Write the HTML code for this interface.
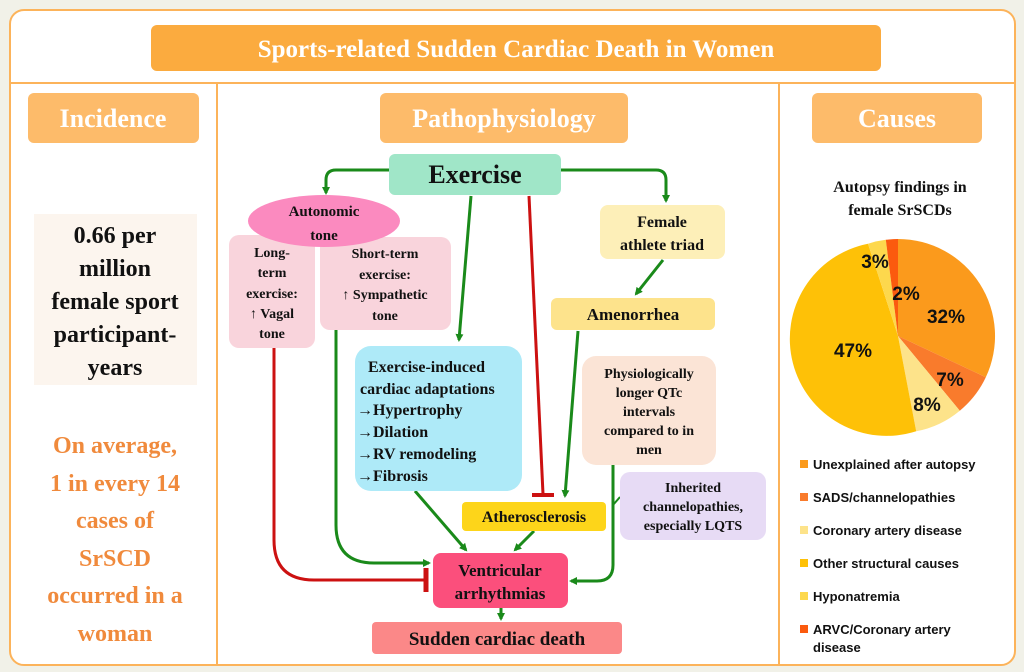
<!DOCTYPE html>
<html><head><meta charset="utf-8"><style>
html,body{margin:0;padding:0;background:#f1f1e8;}
svg{display:block}
.s{font-family:"Liberation Serif",serif;font-weight:bold;}
.a{font-family:"Liberation Sans",sans-serif;font-weight:bold;}
</style></head><body>
<svg width="1024" height="672" viewBox="0 0 1024 672" xmlns="http://www.w3.org/2000/svg">
<defs>
<marker id="g" markerWidth="8" markerHeight="8" refX="6" refY="4" orient="auto" markerUnits="userSpaceOnUse"><path d="M0,0 L8,4 L0,8 Z" fill="#1a8a1a"/></marker>
</defs>
<rect x="0" y="0" width="1024" height="672" fill="#f1f1e8"/>
<rect x="10" y="10" width="1005" height="655" rx="14" fill="#fff" stroke="#fcb35a" stroke-width="2"/>
<line x1="10" y1="83" x2="1015" y2="83" stroke="#fcb35a" stroke-width="2"/>
<line x1="217" y1="83" x2="217" y2="665" stroke="#fcb35a" stroke-width="2"/>
<line x1="779" y1="83" x2="779" y2="665" stroke="#fcb35a" stroke-width="2"/>

<rect x="151" y="25" width="730" height="46" rx="6" fill="#fbab3f"/>
<text x="516" y="57" text-anchor="middle" class="s" font-size="25" fill="#fff">Sports-related Sudden Cardiac Death in Women</text>

<rect x="28" y="93" width="171" height="50" rx="6" fill="#fdbb6a"/>
<text x="113" y="127" text-anchor="middle" class="s" font-size="26" fill="#fff">Incidence</text>
<rect x="380" y="93" width="248" height="50" rx="6" fill="#fdbb6a"/>
<text x="504" y="127" text-anchor="middle" class="s" font-size="26" fill="#fff">Pathophysiology</text>
<rect x="812" y="93" width="170" height="50" rx="6" fill="#fdbb6a"/>
<text x="897" y="127" text-anchor="middle" class="s" font-size="26" fill="#fff">Causes</text>

<rect x="34" y="214" width="163" height="171" fill="#fcf5ee"/>
<text class="s" font-size="24" fill="#111" text-anchor="middle">
<tspan x="115" y="243">0.66 per</tspan><tspan x="115" y="276">million</tspan><tspan x="115" y="309">female sport</tspan><tspan x="115" y="342">participant-</tspan><tspan x="115" y="375">years</tspan></text>
<text class="s" font-size="24" fill="#f08a3c" text-anchor="middle">
<tspan x="115" y="453">On average,</tspan><tspan x="115" y="491">1 in every 14</tspan><tspan x="115" y="528">cases of</tspan><tspan x="115" y="566">SrSCD</tspan><tspan x="115" y="603">occurred in a</tspan><tspan x="115" y="641">woman</tspan></text>

<g fill="none" stroke-width="3">
<path d="M389,170 H336 Q326,170 326,180 V193" stroke="#1a8a1a" marker-end="url(#g)"/>
<path d="M561,170 H656 Q666,170 666,180 V201" stroke="#1a8a1a" marker-end="url(#g)"/>
<path d="M471,196 L459,340" stroke="#1a8a1a" marker-end="url(#g)"/>
<path d="M529,196 L543,494" stroke="#cc1111"/>
<path d="M532,495 H554" stroke="#cc1111" stroke-width="4"/>
<path d="M663,260 L636,294" stroke="#1a8a1a" marker-end="url(#g)"/>
<path d="M578,331 L565,496" stroke="#1a8a1a" marker-end="url(#g)"/>
<path d="M274,348 V540 Q274,580 314,580 H424" stroke="#cc1111"/>
<path d="M426,568 V592" stroke="#cc1111" stroke-width="5"/>
<path d="M336,330 V525 Q336,563 374,563 H429" stroke="#1a8a1a" marker-end="url(#g)"/>
<path d="M415,491 L466,550" stroke="#1a8a1a" marker-end="url(#g)"/>
<path d="M534,531 L515,550" stroke="#1a8a1a" marker-end="url(#g)"/>
<path d="M613,465 V565 Q613,581 597,581 H571" stroke="#1a8a1a" marker-end="url(#g)"/>
<path d="M613,505 L620,497" stroke="#1a8a1a" stroke-width="2"/>
<path d="M501,608 V619" stroke="#1a8a1a" marker-end="url(#g)"/>
</g>

<rect x="389" y="154" width="172" height="41" rx="6" fill="#a0e6c8"/>
<text x="475" y="183" text-anchor="middle" class="s" font-size="26" fill="#111">Exercise</text>

<rect x="229" y="235" width="86" height="113" rx="10" fill="#f9d4dc"/>
<rect x="320" y="237" width="131" height="93" rx="10" fill="#f9d4dc"/>
<ellipse cx="324" cy="221" rx="76" ry="26" fill="#fb8abf"/>
<text class="s" font-size="15" fill="#111" text-anchor="middle"><tspan x="324" y="216">Autonomic</tspan><tspan x="324" y="240">tone</tspan></text>
<text class="s" font-size="14" fill="#111" text-anchor="middle"><tspan x="272" y="257">Long-</tspan><tspan x="272" y="277">term</tspan><tspan x="272" y="298">exercise:</tspan><tspan x="272" y="318">↑ Vagal</tspan><tspan x="272" y="338">tone</tspan></text>
<text class="s" font-size="14" fill="#111" text-anchor="middle"><tspan x="385" y="258">Short-term</tspan><tspan x="385" y="279">exercise:</tspan><tspan x="385" y="299">↑ Sympathetic</tspan><tspan x="385" y="320">tone</tspan></text>

<rect x="600" y="205" width="125" height="54" rx="8" fill="#fdefb8"/>
<text class="s" font-size="16" fill="#111" text-anchor="middle"><tspan x="662" y="227">Female</tspan><tspan x="662" y="250">athlete triad</tspan></text>
<rect x="551" y="298" width="164" height="32" rx="6" fill="#fde38c"/>
<text x="633" y="320" text-anchor="middle" class="s" font-size="17" fill="#111">Amenorrhea</text>

<rect x="355" y="346" width="167" height="145" rx="16" fill="#aeeaf8"/>
<text class="s" font-size="16" fill="#111"><tspan x="368" y="372" >Exercise-induced</tspan><tspan x="360" y="394">cardiac adaptations</tspan><tspan x="357" y="415">→Hypertrophy</tspan><tspan x="357" y="437">→Dilation</tspan><tspan x="357" y="459">→RV remodeling</tspan><tspan x="357" y="481">→Fibrosis</tspan></text>

<rect x="582" y="356" width="134" height="109" rx="14" fill="#fbe4d6"/>
<text class="s" font-size="14" fill="#111" text-anchor="middle"><tspan x="649" y="378">Physiologically</tspan><tspan x="649" y="397">longer QTc</tspan><tspan x="649" y="416">intervals</tspan><tspan x="649" y="435">compared to in</tspan><tspan x="649" y="454">men</tspan></text>

<rect x="462" y="502" width="144" height="29" rx="4" fill="#fdd51a"/>
<text x="534" y="522" text-anchor="middle" class="s" font-size="16" fill="#111">Atherosclerosis</text>

<rect x="620" y="472" width="146" height="68" rx="10" fill="#e7dbf5"/>
<text class="s" font-size="14" fill="#111" text-anchor="middle"><tspan x="693" y="492">Inherited</tspan><tspan x="693" y="511">channelopathies,</tspan><tspan x="693" y="530">especially LQTS</tspan></text>

<rect x="433" y="553" width="135" height="55" rx="8" fill="#fb4f7c"/>
<text class="s" font-size="17" fill="#111" text-anchor="middle"><tspan x="500" y="576">Ventricular</tspan><tspan x="500" y="599">arrhythmias</tspan></text>

<rect x="372" y="622" width="250" height="32" rx="4" fill="#fb8888"/>
<text x="497" y="645" text-anchor="middle" class="s" font-size="19" fill="#111">Sudden cardiac death</text>

<text class="s" font-size="16" fill="#111" text-anchor="middle"><tspan x="900" y="192">Autopsy findings in</tspan><tspan x="900" y="215">female SrSCDs</tspan></text>
<path d="M898,336 L898,239 A97,97 0 0 1 985.8,377.3 Z" fill="#fb9a1c"/>
<path d="M898,336 L985.8,377.3 A97,97 0 0 1 959.8,410.7 Z" fill="#f97b2c"/>
<path d="M898,336 L959.8,410.7 A97,97 0 0 1 916.2,431.3 Z" fill="#fde38a"/>
<path d="M898,336 L916.2,431.3 A97,97 0 1 1 868,243.7 Z" fill="#fec107"/>
<path d="M898,336 L868,243.7 A97,97 0 0 1 885.8,239.8 Z" fill="#fdd84d"/>
<path d="M898,336 L885.8,239.8 A97,97 0 0 1 898,239 Z" fill="#fb5a0e"/>
<g class="a" font-size="19" fill="#111" text-anchor="middle">
<text x="946" y="323">32%</text><text x="906" y="300">2%</text><text x="875" y="268">3%</text>
<text x="853" y="357">47%</text><text x="950" y="386">7%</text><text x="927" y="411">8%</text>
</g>
<g class="a" font-size="13" fill="#111">
<rect x="800" y="460" width="8" height="8" fill="#fb9a1c"/><text x="813" y="469">Unexplained after autopsy</text>
<rect x="800" y="493" width="8" height="8" fill="#f97b2c"/><text x="813" y="502">SADS/channelopathies</text>
<rect x="800" y="526" width="8" height="8" fill="#fde38a"/><text x="813" y="535">Coronary artery disease</text>
<rect x="800" y="559" width="8" height="8" fill="#fec107"/><text x="813" y="568">Other structural causes</text>
<rect x="800" y="592" width="8" height="8" fill="#fdd84d"/><text x="813" y="601">Hyponatremia</text>
<rect x="800" y="625" width="8" height="8" fill="#fb5a0e"/><text x="813" y="634">ARVC/Coronary artery</text><text x="813" y="652">disease</text>
</g>
</svg>
</body></html>
